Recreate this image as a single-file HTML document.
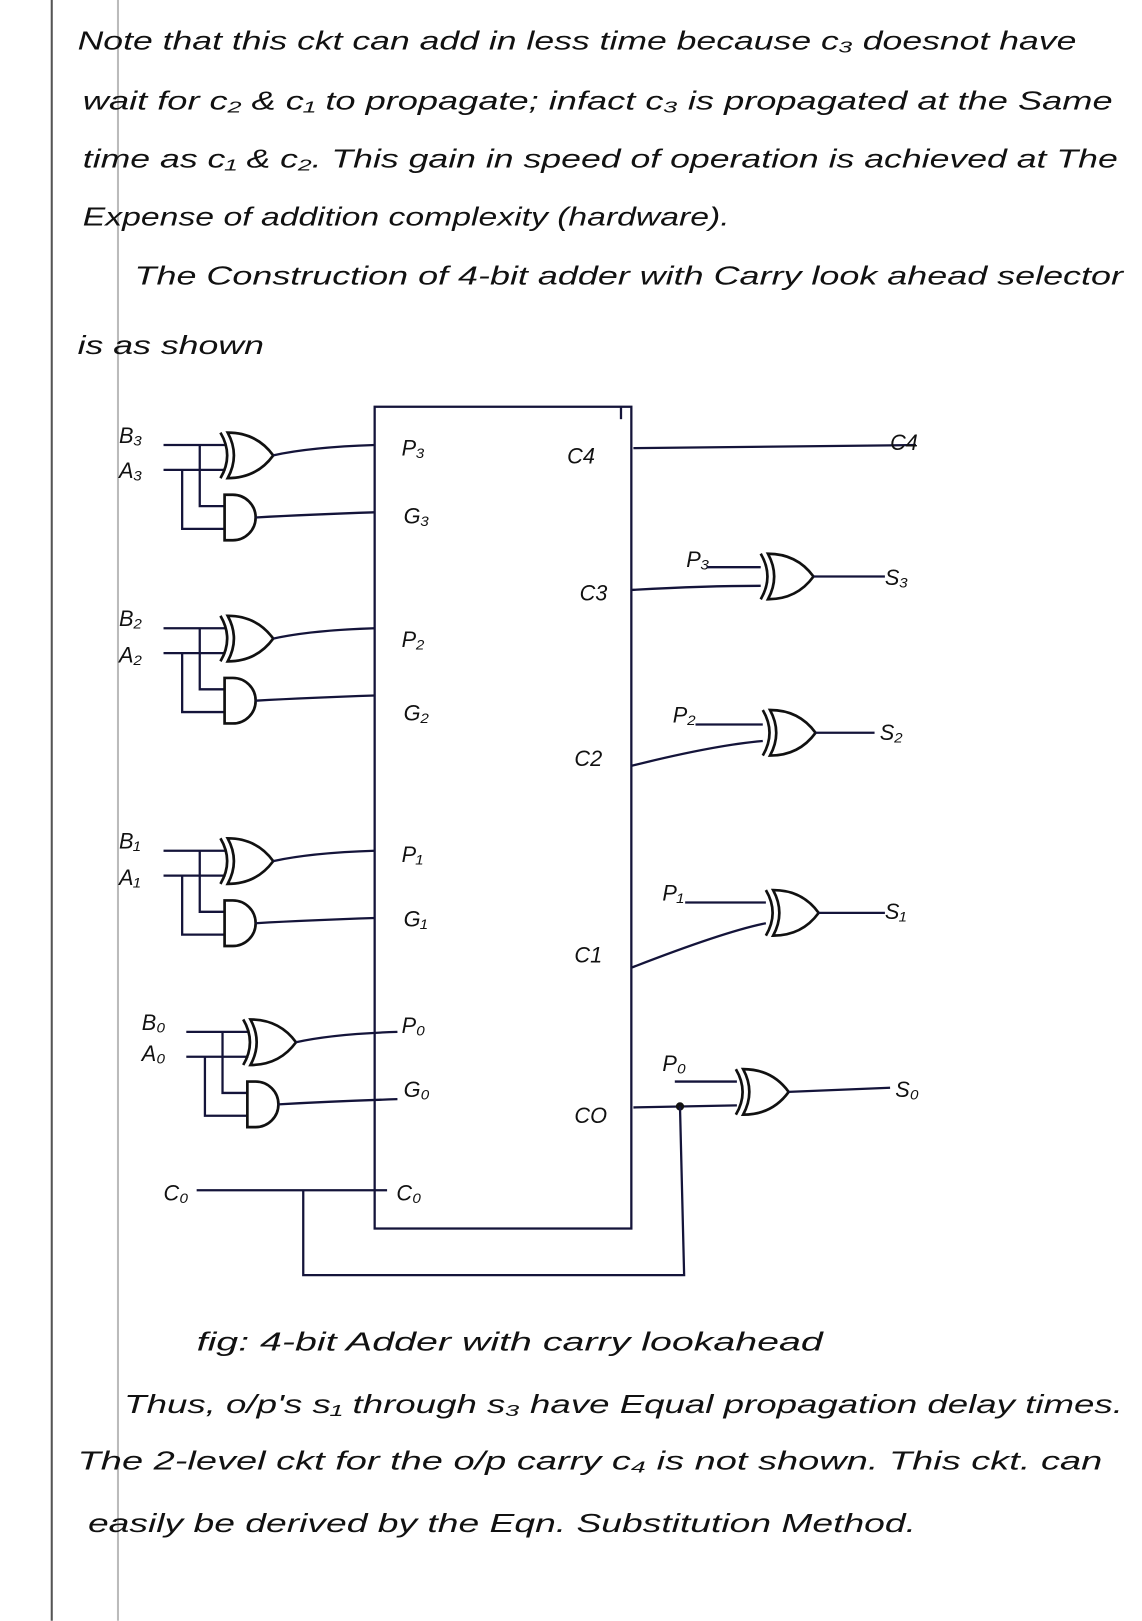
<!DOCTYPE html>
<html><head><meta charset="utf-8"><style>
html,body{margin:0;padding:0;background:#fff;}
svg{display:block;}
.t{font-family:"Liberation Sans",sans-serif;font-style:italic;font-size:25px;fill:#111;}
.l{font-family:"Liberation Sans",sans-serif;font-style:italic;font-size:21px;fill:#111;}
.w{stroke:#14143a;stroke-width:2.2;fill:none;}
.g{stroke:#111;stroke-width:2.6;fill:none;}
</style></head><body>
<svg width="1142" height="1621" viewBox="0 0 1103.4 1566.2" xmlns="http://www.w3.org/2000/svg">
<defs>
 <g id="xor"><path class="g" d="M-7,-22 Q6,0 -7,22"/><path class="g" d="M0,-22 Q28,-22 44,0 Q28,22 0,22 Q12,0 0,-22 Z"/></g>
 <g id="and"><path class="g" d="M0,-22 H8 A22 22 0 0 1 8 22 H0 Z"/></g>
 <g id="grp">
  <line class="w" x1="158" y1="430" x2="218" y2="430"/>
  <line class="w" x1="158" y1="454" x2="218" y2="454"/>
  <polyline class="w" points="193,430 193,489 217,489"/>
  <polyline class="w" points="176,454 176,511 217,511"/>
  <use href="#xor" x="220" y="440"/>
  <use href="#and" x="217" y="500"/>
  <path class="w" d="M264,440 Q300,432 362,430"/>
  <path class="w" d="M247,500 Q300,497 362,495"/>
 </g>
</defs>
<line x1="50" y1="0" x2="50" y2="1566" stroke="#555" stroke-width="2"/>
<line x1="114" y1="0" x2="114" y2="1566" stroke="#bbb" stroke-width="2"/>

<text class="t" x="75" y="48" textLength="965" lengthAdjust="spacingAndGlyphs">Note that this ckt can add in less time because c₃ doesnot have</text>
<text class="t" x="80" y="106" textLength="995" lengthAdjust="spacingAndGlyphs">wait for c₂ &amp; c₁ to propagate; infact c₃ is propagated at the Same</text>
<text class="t" x="80" y="162" textLength="1000" lengthAdjust="spacingAndGlyphs">time as c₁ &amp; c₂. This gain in speed of operation is achieved at The</text>
<text class="t" x="80" y="218" textLength="625" lengthAdjust="spacingAndGlyphs">Expense of addition complexity (hardware).</text>
<text class="t" x="130" y="275" textLength="955" lengthAdjust="spacingAndGlyphs">The Construction of 4-bit adder with Carry look ahead selector</text>
<text class="t" x="75" y="342" textLength="180" lengthAdjust="spacingAndGlyphs">is as shown</text>

<!-- main box -->
<polyline class="w" points="600,393 600,405"/>
<rect class="w" x="362" y="393" width="248" height="794"/>

<!-- gate groups -->
<use href="#grp"/>
<use href="#grp" y="177"/>
<use href="#grp" y="392"/>
<use href="#grp" x="22" y="567"/>
<text class="l" x="115" y="428">B₃</text><text class="l" x="115" y="462">A₃</text>
<text class="l" x="115" y="605">B₂</text><text class="l" x="115" y="640">A₂</text>
<text class="l" x="115" y="820">B₁</text><text class="l" x="115" y="855">A₁</text>
<text class="l" x="137" y="995">B₀</text><text class="l" x="137" y="1025">A₀</text>

<text class="l" x="388" y="440">P₃</text><text class="l" x="390" y="506">G₃</text>
<text class="l" x="388" y="625">P₂</text><text class="l" x="390" y="696">G₂</text>
<text class="l" x="388" y="833">P₁</text><text class="l" x="390" y="895">G₁</text>
<text class="l" x="388" y="998">P₀</text><text class="l" x="390" y="1060">G₀</text>
<text class="l" x="383" y="1160">C₀</text>

<text class="l" x="548" y="448">C4</text>
<text class="l" x="560" y="580">C3</text>
<text class="l" x="555" y="740">C2</text>
<text class="l" x="555" y="930">C1</text>
<text class="l" x="555" y="1085">CO</text>

<!-- right side -->
<path class="w" d="M612,433 Q750,432 885,430"/>
<text class="l" x="860" y="435">C4</text>

<text class="l" x="663" y="548">P₃</text>
<line class="w" x1="683" y1="548" x2="735" y2="548"/>
<path class="w" d="M610,570 Q680,566 735,566"/>
<use href="#xor" x="742" y="557"/>
<line class="w" x1="786" y1="557" x2="855" y2="557"/>
<text class="l" x="855" y="565">S₃</text>

<text class="l" x="650" y="698">P₂</text>
<line class="w" x1="672" y1="700" x2="737" y2="700"/>
<path class="w" d="M610,740 Q690,720 737,716"/>
<use href="#xor" x="744" y="708"/>
<line class="w" x1="788" y1="708" x2="845" y2="708"/>
<text class="l" x="850" y="715">S₂</text>

<text class="l" x="640" y="870">P₁</text>
<line class="w" x1="662" y1="872" x2="740" y2="872"/>
<path class="w" d="M610,935 Q700,900 740,892"/>
<use href="#xor" x="747" y="882"/>
<line class="w" x1="791" y1="882" x2="855" y2="882"/>
<text class="l" x="855" y="888">S₁</text>

<text class="l" x="640" y="1035">P₀</text>
<line class="w" x1="652" y1="1045" x2="712" y2="1045"/>
<line class="w" x1="612" y1="1070" x2="712" y2="1068"/>
<use href="#xor" x="718" y="1055"/>
<line class="w" x1="762" y1="1055" x2="860" y2="1051"/>
<text class="l" x="865" y="1060">S₀</text>
<circle cx="657" cy="1069" r="4" fill="#111"/>
<path class="w" d="M657,1069 L661,1232 L293,1232 L293,1150"/>
<line class="w" x1="190" y1="1150" x2="374" y2="1150"/>
<text class="l" x="158" y="1160">C₀</text>

<text class="t" x="190" y="1305" textLength="605" lengthAdjust="spacingAndGlyphs">fig: 4-bit Adder with carry lookahead</text>
<text class="t" x="120" y="1365" textLength="965" lengthAdjust="spacingAndGlyphs">Thus, o/p's s₁ through s₃ have Equal propagation delay times.</text>
<text class="t" x="75" y="1420" textLength="990" lengthAdjust="spacingAndGlyphs">The 2-level ckt for the o/p carry c₄ is not shown. This ckt. can</text>
<text class="t" x="85" y="1480" textLength="800" lengthAdjust="spacingAndGlyphs">easily be derived by the Eqn. Substitution Method.</text>
</svg>
</body></html>
